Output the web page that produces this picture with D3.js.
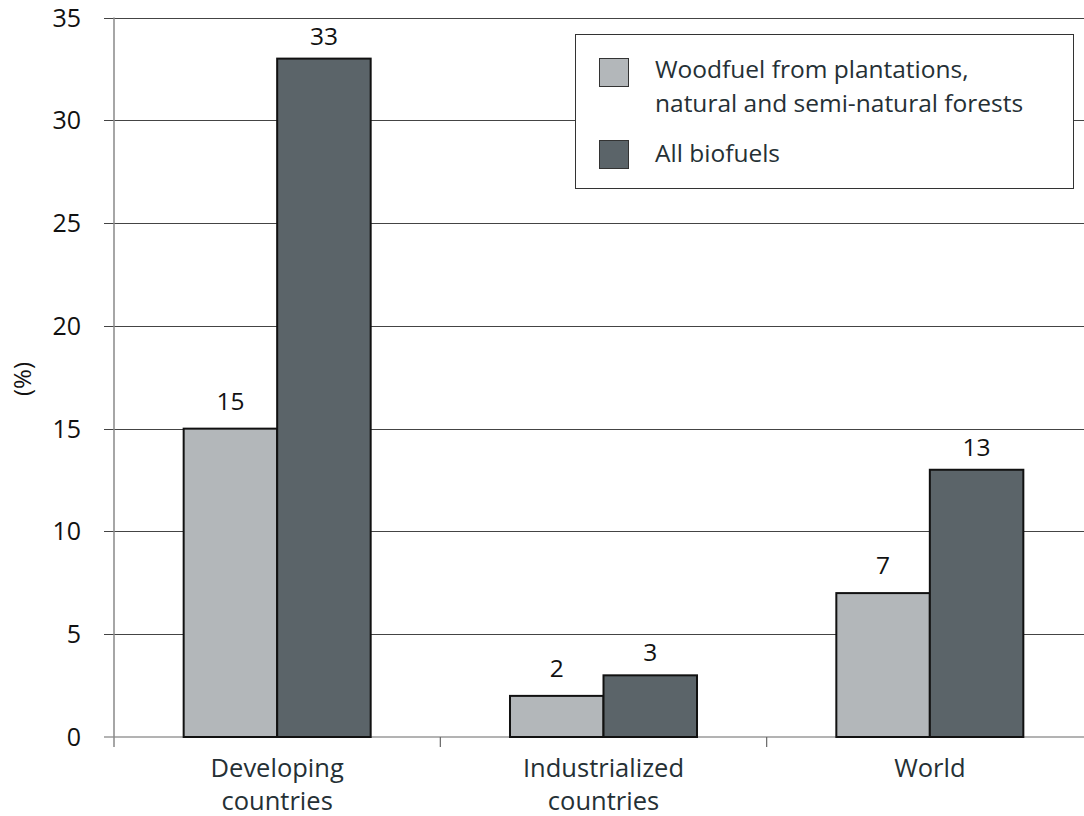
<!DOCTYPE html>
<html><head><meta charset="utf-8">
<script src="https://cdn.jsdelivr.net/npm/d3@7"></script>
<style>body{margin:0;background:#fff}svg{display:block}text{font-family:"Open Sans",sans-serif}</style>
</head><body>
<svg id="c" width="1084" height="816"></svg>
<script>
const categories = ["Developing countries", "Industrialized countries", "World"];
const categoryLines = [["Developing", "countries"], ["Industrialized", "countries"], ["World"]];
const seriesNames = ["Woodfuel from plantations, natural and semi-natural forests", "All biofuels"];
const legendLines = [["Woodfuel from plantations,", "natural and semi-natural forests"], ["All biofuels"]];
const woodfuel = [15, 2, 7];
const biofuels = [33, 3, 13];
const yTicks = [0, 5, 10, 15, 20, 25, 30, 35];

const colors = ["#b3b7ba", "#5b6469"];
const labelGap = [19, 14];
const svg = d3.select("#c");
const x0 = 114, x1 = 1093;
const x = d3.scaleBand().domain(categories).range([x0, x1]).paddingInner(0).paddingOuter(0);
const xs = d3.scaleBand().domain(seriesNames).range([0, x.bandwidth()]).paddingInner(0).paddingOuter(0.745);
const y = d3.scaleLinear().domain([0, 35]).range([737, 17.5]);

// gridlines
svg.append("g").selectAll("line").data(yTicks.filter(d => d > 0)).join("line")
  .attr("x1", 104).attr("x2", 1084)
  .attr("y1", d => Math.round(y(d)) + 0.5).attr("y2", d => Math.round(y(d)) + 0.5)
  .attr("stroke", "#444").attr("stroke-width", 1);
// zero line
svg.append("line").attr("x1", 104).attr("x2", 1084).attr("y1", y(0)).attr("y2", y(0))
  .attr("stroke", "#9a9a9a").attr("stroke-width", 1.5);
// y axis
svg.append("line").attr("x1", x0).attr("x2", x0).attr("y1", y(35)).attr("y2", y(0) + 10)
  .attr("stroke", "#888").attr("stroke-width", 1.5);
svg.append("g").selectAll("text").data(yTicks).join("text")
  .attr("x", 81).attr("y", d => y(d)).attr("dy", "0.36em").attr("text-anchor", "end")
  .attr("font-size", 25).attr("fill", "#111").text(d => d);
// category ticks
svg.append("g").selectAll("line").data(categories.slice(1)).join("line")
  .attr("x1", d => x(d)).attr("x2", d => x(d)).attr("y1", y(0)).attr("y2", y(0) + 10)
  .attr("stroke", "#666").attr("stroke-width", 1.2);

// bars
const series = [woodfuel, biofuels];
series.forEach((vals, si) => {
  const g = svg.append("g");
  g.selectAll("rect").data(categories).join("rect")
    .attr("x", (c) => x(c) + xs(seriesNames[si]))
    .attr("y", (c, i) => y(vals[i]))
    .attr("width", xs.bandwidth())
    .attr("height", (c, i) => y(0) - y(vals[i]))
    .attr("fill", colors[si]).attr("stroke", "#111").attr("stroke-width", 2);
  g.selectAll("text").data(categories).join("text")
    .attr("x", (c) => x(c) + xs(seriesNames[si]) + xs.bandwidth() / 2)
    .attr("y", (c, i) => y(vals[i]) - labelGap[si])
    .attr("text-anchor", "middle").attr("font-size", 24.5).attr("fill", "#111")
    .text((c, i) => vals[i]);
});

// category labels
categories.forEach((c, i) => {
  const cx = x(c) + x.bandwidth() / 2;
  categoryLines[i].forEach((ln, k) => {
    svg.append("text").attr("x", cx).attr("y", 777 + k * 33).attr("text-anchor", "middle")
      .attr("font-size", 25.5).attr("fill", "#253035").text(ln);
  });
});

// y label
svg.append("text").attr("transform", "translate(31,379) rotate(-90)").attr("text-anchor", "middle")
  .attr("font-size", 24).attr("fill", "#111").text("(%)");

// legend
const lg = svg.append("g");
lg.append("rect").attr("x", 575.5).attr("y", 34.5).attr("width", 498).attr("height", 154)
  .attr("fill", "#fff").attr("stroke", "#333").attr("stroke-width", 1);
const swY = [58, 140];
const txtY = [[78, 112], [162]];
seriesNames.forEach((s, i) => {
  lg.append("rect").attr("x", 599.5).attr("y", swY[i] + 0.5).attr("width", 29).attr("height", 28)
    .attr("fill", colors[i]).attr("stroke", "#333").attr("stroke-width", 1);
  legendLines[i].forEach((ln, k) => {
    lg.append("text").attr("x", 655).attr("y", txtY[i][k]).attr("font-size", 24.5)
      .attr("fill", "#253035").text(ln);
  });
});
</script>
</body></html>
